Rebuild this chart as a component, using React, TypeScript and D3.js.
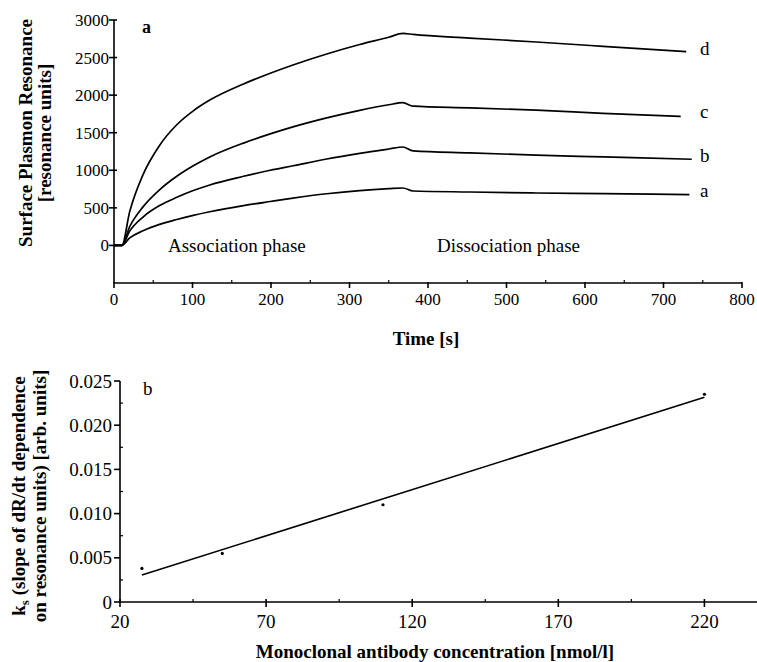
import React from 'react';
import * as d3 from 'd3';

// panel a: SPR sensorgrams (time in s, response in resonance units)
const timeCommon = [0, 10, 20, 37, 58, 80, 101, 122, 165, 199, 228, 271, 313, 350, 368, 381, 453, 538, 623];
const curveNames = ['a', 'b', 'c', 'd'];
const curveEndTime = [733, 736, 722, 729];
const valuesA = [0, 0, 100, 195, 280, 345, 400, 448, 530, 585, 630, 688, 730, 755, 764, 724, 711, 698, 689, 676];
const valuesB = [0, 0, 190, 378, 530, 640, 730, 805, 920, 1000, 1060, 1150, 1225, 1283, 1310, 1258, 1231, 1202, 1178, 1147];
const valuesC = [0, 0, 250, 513, 740, 920, 1059, 1177, 1362, 1484, 1577, 1697, 1798, 1872, 1900, 1853, 1831, 1800, 1758, 1716];
const valuesD = [0, 0, 450, 943, 1331, 1606, 1791, 1934, 2149, 2292, 2402, 2548, 2674, 2770, 2822, 2808, 2760, 2707, 2650, 2578];
const timeTicks = [0, 100, 200, 300, 400, 500, 600, 700, 800];
const sprTicks = [0, 500, 1000, 1500, 2000, 2500, 3000];

// panel b: ks vs antibody concentration
const concentration = [27.5, 55, 110, 220];
const ksValues = [0.0038, 0.0055, 0.011, 0.0235];
const concTicks = [20, 70, 120, 170, 220];
const ksTicks = [0, 0.005, 0.01, 0.015, 0.02, 0.025];

const serif = '"Liberation Serif", "Times New Roman", serif';

export default function App() {
  // --- panel a scales
  const x1 = d3.scaleLinear().domain([0, 800]).range([114, 742]);
  const y1 = d3.scaleLinear().domain([-500, 3000]).range([283, 20]);
  const allValues = [valuesA, valuesB, valuesC, valuesD];
  const line1 = d3.line<[number, number]>()
    .x(d => x1(d[0]))
    .y(d => y1(d[1]))
    .curve(d3.curveMonotoneX);
  const curves = allValues.map((vals, i) => {
    const ts = [...timeCommon, curveEndTime[i]];
    return ts.map((t, j) => [t, vals[j]] as [number, number]);
  });
  const labelY = [197, 162, 118, 55];
  const minorTime = d3.range(50, 800, 100);

  // --- panel b scales
  const x2 = d3.scaleLinear().domain([20, 238]).range([120, 757]);
  const y2 = d3.scaleLinear().domain([0, 0.025]).range([602, 381]);
  const meanX = d3.mean(concentration)!;
  const meanY = d3.mean(ksValues)!;
  const sxy = d3.sum(concentration, (c, i) => (c - meanX) * (ksValues[i] - meanY));
  const sxx = d3.sum(concentration, c => (c - meanX) ** 2);
  const slope = sxy / sxx;
  const intercept = meanY - slope * meanX;
  const [cMin, cMax] = d3.extent(concentration) as [number, number];
  const fit = d3.line<number>().x(c => x2(c)).y(c => y2(intercept + slope * c));
  const minorConc = d3.range(45, 238, 50);
  const minorKs = d3.range(0.0025, 0.025, 0.005);
  const fmtKs = (v: number) => (v === 0 ? '0' : d3.format('.3f')(v));

  return (
    <svg width={757} height={662} style={{ position: 'absolute', left: 0, top: 0, background: '#fff' }}
      fontFamily={serif}>
      {/* ===== panel a ===== */}
      <g stroke="#000" strokeWidth={1.6} fill="none">
        <line x1={x1(0)} x2={x1(0)} y1={y1(3000)} y2={y1(-500)} />
        <line x1={x1(0)} x2={x1(800)} y1={y1(-500)} y2={y1(-500)} />
        {sprTicks.map(t => (
          <line key={t} x1={x1(0) - 5} x2={x1(0) + 3} y1={y1(t)} y2={y1(t)} />
        ))}
        {timeTicks.map(t => (
          <line key={t} x1={x1(t)} x2={x1(t)} y1={y1(-500) - 1} y2={y1(-500) + 5} />
        ))}
        {minorTime.map(t => (
          <line key={t} x1={x1(t)} x2={x1(t)} y1={y1(-500) - 3} y2={y1(-500)} strokeWidth={1.2} />
        ))}
        {curves.map((c, i) => (
          <path key={i} d={line1(c)!} strokeWidth={1.7} />
        ))}
      </g>
      <g fontSize={17} fill="#000">
        {sprTicks.map(t => (
          <text key={t} x={x1(0) - 5} y={y1(t)} dy="0.35em" textAnchor="end">{t}</text>
        ))}
        {timeTicks.map(t => (
          <text key={t} x={x1(t)} y={305} textAnchor="middle">{t}</text>
        ))}
      </g>
      <g fontSize={19} fill="#000">
        <text x={142} y={33} fontWeight="bold" fontSize={18}>a</text>
        {curveNames.map((n, i) => (
          <text key={n} x={700} y={labelY[i]}>{n}</text>
        ))}
        <text x={168} y={252}>Association phase</text>
        <text x={437} y={252}>Dissociation phase</text>
        <text x={426} y={345} textAnchor="middle" fontWeight="bold">Time [s]</text>
        <g transform="translate(32,133) rotate(-90)" fontWeight="bold" textAnchor="middle">
          <text x={0} y={0}>Surface Plasmon Resonance</text>
          <text x={0} y={19}>[resonance units]</text>
        </g>
      </g>

      {/* ===== panel b ===== */}
      <g stroke="#000" strokeWidth={1.6} fill="none">
        <line x1={x2(20)} x2={x2(20)} y1={y2(0.025)} y2={y2(0)} />
        <line x1={x2(20)} x2={x2(238)} y1={y2(0)} y2={y2(0)} />
        {ksTicks.map(t => (
          <line key={t} x1={x2(20) - 6} x2={x2(20)} y1={y2(t)} y2={y2(t)} />
        ))}
        {minorKs.map(t => (
          <line key={t} x1={x2(20)} x2={x2(20) + 3} y1={y2(t)} y2={y2(t)} strokeWidth={1.2} />
        ))}
        {concTicks.map(t => (
          <line key={t} x1={x2(t)} x2={x2(t)} y1={y2(0) - 3} y2={y2(0) + 5} />
        ))}
        {minorConc.map(t => (
          <line key={t} x1={x2(t)} x2={x2(t)} y1={y2(0) - 3} y2={y2(0)} strokeWidth={1.2} />
        ))}
        <path d={fit([cMin, cMax])!} strokeWidth={1.6} />
      </g>
      {concentration.map((c, i) => (
        <circle key={i} cx={x2(c)} cy={y2(ksValues[i])} r={1.6} fill="#000" />
      ))}
      <g fontSize={19} fill="#000">
        {ksTicks.map(t => (
          <text key={t} x={x2(20) - 8} y={y2(t)} dy="0.35em" textAnchor="end">{fmtKs(t)}</text>
        ))}
        {concTicks.map(t => (
          <text key={t} x={x2(t)} y={628} textAnchor="middle">{t}</text>
        ))}
        <text x={143} y={395}>b</text>
        <text x={435} y={658} textAnchor="middle" fontWeight="bold">Monoclonal antibody concentration [nmol/l]</text>
        <g transform="translate(25,496) rotate(-90)" fontWeight="bold" textAnchor="middle">
          <text x={0} y={0}>k<tspan fontSize={13} dy={4}>s</tspan><tspan dy={-4}> (slope of dR/dt dependence</tspan></text>
          <text x={0} y={21}>on resonance units) [arb. units]</text>
        </g>
      </g>
    </svg>
  );
}
